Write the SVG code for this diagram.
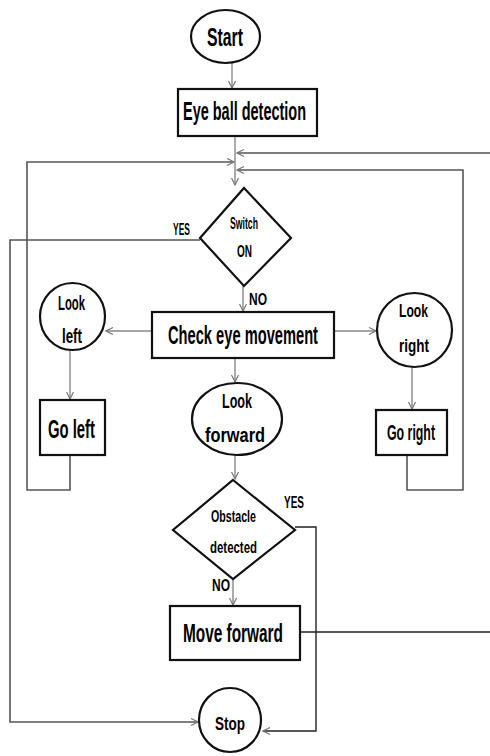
<svg xmlns="http://www.w3.org/2000/svg" width="490" height="756" viewBox="0 0 490 756">
<style>
.n{fill:#fff;stroke:#111;stroke-width:2.2}
.t{font-family:"Liberation Sans",Arial,sans-serif;font-weight:bold;fill:#000}
.c{fill:none;stroke:#555;stroke-width:1.6}
.a{fill:none;stroke:#888;stroke-width:1.4}
.k{fill:none;stroke:#222;stroke-width:1.4}
</style>
<defs>
<marker id="ar" markerWidth="9" markerHeight="9" refX="8" refY="4.5" orient="auto" markerUnits="userSpaceOnUse">
<path d="M1,1 L8,4.5 L1,8" fill="none" stroke="#777" stroke-width="1.2"/>
</marker>
</defs>
<g id="connectors">
<path class="a" d="M232,63 V88" marker-end="url(#ar)"/>
<path class="a" d="M235,136 V185" marker-end="url(#ar)"/>
<path class="c" d="M490,153 H237" marker-end="url(#ar)"/>
<path class="c" d="M70,455 V490 H27 V162 H234" marker-end="url(#ar)"/>
<path class="c" d="M407,455 V490 H463 V170 H237" marker-end="url(#ar)"/>
<path class="c" d="M200,240 H10 V722 H198" marker-end="url(#ar)"/>
<path class="a" d="M243,286 V311" marker-end="url(#ar)"/>
<path class="a" d="M152,331 H106" marker-end="url(#ar)"/>
<path class="a" d="M334,331 H376" marker-end="url(#ar)"/>
<path class="a" d="M70,350 V399" marker-end="url(#ar)"/>
<path class="a" d="M412,367 V409" marker-end="url(#ar)"/>
<path class="a" d="M235,358 V382" marker-end="url(#ar)"/>
<path class="a" d="M235,455 V479" marker-end="url(#ar)"/>
<path class="k" d="M295,527 H316 V731 H263" marker-end="url(#ar)"/>
<path class="a" d="M233,579 V605" marker-end="url(#ar)"/>
<path class="k" d="M300,632 H490"/>
<text class="t" x="173" y="235" font-size="17" textLength="17" lengthAdjust="spacingAndGlyphs">YES</text>
<text class="t" x="249" y="305" font-size="17" textLength="18" lengthAdjust="spacingAndGlyphs">NO</text>
<text class="t" x="284" y="508" font-size="17" textLength="20" lengthAdjust="spacingAndGlyphs">YES</text>
<text class="t" x="212" y="591" font-size="17" textLength="18" lengthAdjust="spacingAndGlyphs">NO</text>
</g>
<g id="start">
<ellipse class="n" cx="225.5" cy="36.5" rx="34.5" ry="26.5"/>
<text class="t" x="207" y="46" font-size="25" textLength="36" lengthAdjust="spacingAndGlyphs">Start</text>
</g>
<g id="eyeball">
<rect class="n" x="178" y="89" width="139" height="47"/>
<text class="t" x="183" y="120" font-size="25" textLength="123" lengthAdjust="spacingAndGlyphs">Eye ball detection</text>
</g>
<g id="switch">
<polygon class="n" points="244,188 291,238 244,286 200,238"/>
<text class="t" x="230" y="229" font-size="17" textLength="28" lengthAdjust="spacingAndGlyphs">Switch</text>
<text class="t" x="237" y="257" font-size="17" textLength="15" lengthAdjust="spacingAndGlyphs">ON</text>
</g>
<g id="check">
<rect class="n" x="152" y="312" width="182" height="46"/>
<text class="t" x="168" y="344" font-size="25" textLength="150" lengthAdjust="spacingAndGlyphs">Check eye movement</text>
</g>
<g id="lookleft">
<ellipse class="n" cx="72.5" cy="316.5" rx="32.5" ry="33.5"/>
<text class="t" x="58" y="310" font-size="20" textLength="27" lengthAdjust="spacingAndGlyphs">Look</text>
<text class="t" x="62" y="343" font-size="20" textLength="20" lengthAdjust="spacingAndGlyphs">left</text>
</g>
<g id="goleft">
<rect class="n" x="40" y="400" width="65" height="55"/>
<text class="t" x="48" y="438" font-size="25" textLength="47" lengthAdjust="spacingAndGlyphs">Go left</text>
</g>
<g id="lookforward">
<ellipse class="n" cx="237" cy="419" rx="45" ry="36"/>
<text class="t" x="222" y="408" font-size="20" textLength="30" lengthAdjust="spacingAndGlyphs">Look</text>
<text class="t" x="205" y="442" font-size="20" textLength="60" lengthAdjust="spacingAndGlyphs">forward</text>
</g>
<g id="lookright">
<ellipse class="n" cx="414.5" cy="330" rx="37.5" ry="37"/>
<text class="t" x="399" y="317" font-size="18" textLength="29" lengthAdjust="spacingAndGlyphs">Look</text>
<text class="t" x="399" y="352" font-size="18" textLength="30" lengthAdjust="spacingAndGlyphs">right</text>
</g>
<g id="goright">
<rect class="n" x="376" y="410" width="71" height="45"/>
<text class="t" x="387" y="440" font-size="22" textLength="48" lengthAdjust="spacingAndGlyphs">Go right</text>
</g>
<g id="obstacle">
<polygon class="n" points="233,480 295,530 233,579 173,530"/>
<text class="t" x="211" y="522" font-size="17" textLength="45" lengthAdjust="spacingAndGlyphs">Obstacle</text>
<text class="t" x="210" y="553" font-size="17" textLength="47" lengthAdjust="spacingAndGlyphs">detected</text>
</g>
<g id="moveforward">
<rect class="n" x="170" y="606" width="130" height="54"/>
<text class="t" x="183" y="642" font-size="26" textLength="100" lengthAdjust="spacingAndGlyphs">Move forward</text>
</g>
<g id="stop">
<ellipse class="n" cx="230" cy="720" rx="31" ry="32"/>
<text class="t" x="215" y="730" font-size="19" textLength="30" lengthAdjust="spacingAndGlyphs">Stop</text>
</g>
</svg>
